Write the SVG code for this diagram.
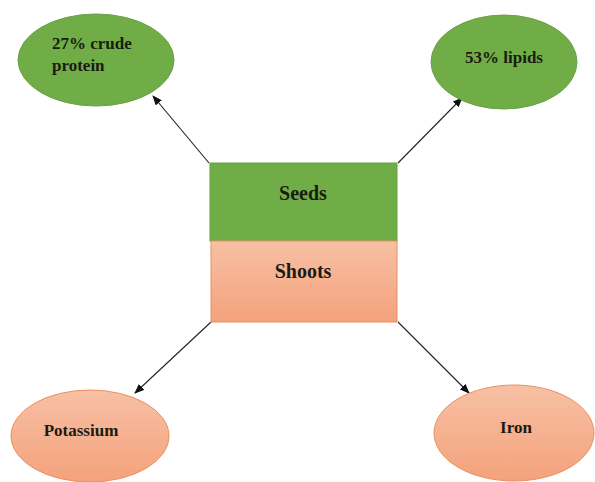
<svg xmlns="http://www.w3.org/2000/svg" width="595" height="482" viewBox="0 0 595 482">
<defs>
<linearGradient id="og" x1="0" y1="0" x2="0" y2="1">
<stop offset="0" stop-color="#F7C0A4"/>
<stop offset="1" stop-color="#F4A27C"/>
</linearGradient>
<marker id="ah" markerWidth="10" markerHeight="8" refX="9" refY="4" orient="auto" markerUnits="userSpaceOnUse">
<path d="M0,0 L10,4 L0,8 Z" fill="#111"/>
</marker>
<style>
.g{fill:#70AD47;stroke:#6A9F45;stroke-width:1}
.o{fill:url(#og);stroke:#E9915F;stroke-width:1}
.t{font-family:"Liberation Serif","Times New Roman",serif;font-weight:bold;fill:#1b1b12}
.s{font-size:17px}
.b{font-size:20px}
.c{stroke:#222;stroke-width:1.1;fill:none;marker-end:url(#ah)}
</style>
</defs>
<rect width="595" height="482" fill="#fff"/>
<g id="connectors">
<line class="c" x1="209" y1="163" x2="153" y2="96"/>
<line class="c" x1="398" y1="163" x2="462" y2="98"/>
<line class="c" x1="211" y1="322" x2="135" y2="393"/>
<line class="c" x1="398" y1="322" x2="469" y2="393"/>
</g>
<g id="crude-protein">
<ellipse class="g" cx="96" cy="60" rx="78" ry="46"/>
<text class="t s" x="52" y="49">27% crude</text>
<text class="t s" x="52" y="71">protein</text>
</g>
<g id="lipids">
<ellipse class="g" cx="504" cy="62" rx="73" ry="47"/>
<text class="t s" x="504" y="63" text-anchor="middle">53% lipids</text>
</g>
<g id="seeds">
<rect class="g" x="210" y="163" width="187" height="78"/>
<text class="t b" x="303" y="200" text-anchor="middle">Seeds</text>
</g>
<g id="shoots">
<rect class="o" x="211" y="241" width="186" height="81"/>
<text class="t b" x="303" y="278" text-anchor="middle">Shoots</text>
</g>
<g id="potassium">
<ellipse class="o" cx="90" cy="436" rx="79" ry="46"/>
<text class="t s" x="81" y="436" text-anchor="middle">Potassium</text>
</g>
<g id="iron">
<ellipse class="o" cx="514" cy="433" rx="80" ry="48"/>
<text class="t s" x="516" y="433" text-anchor="middle">Iron</text>
</g>
</svg>
